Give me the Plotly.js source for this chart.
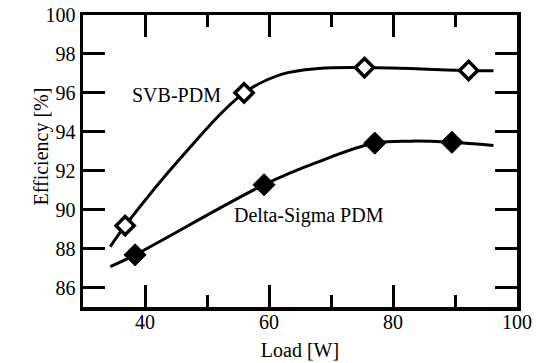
<!DOCTYPE html>
<html>
<head>
<meta charset="utf-8">
<script src="https://cdn.plot.ly/plotly-3.0.1.min.js"></script>
<style>html,body{margin:0;padding:0;background:#fff;}#chart{width:542px;height:363px;}</style>
</head>
<body>
<div id="chart"></div>
<script>
const svbLoad = [36.8, 55.98, 75.4, 92.2];
const svbEff = [89.18, 96.0, 97.3, 97.15];
const dsLoad = [38.4, 59.2, 77.05, 89.5];
const dsEff = [87.68, 91.28, 93.42, 93.46];
const svbCurveLoad = [34.4, 36.8, 46, 55.98, 62, 68, 75.4, 92.2, 96.2];
const svbCurveEff = [88.1, 89.18, 92.75, 96.0, 96.95, 97.25, 97.3, 97.15, 97.13];
const dsCurveLoad = [34.4, 38.4, 59.2, 67.5, 77.05, 83, 89.5, 96.2];
const dsCurveEff = [87.07, 87.68, 91.28, 92.4, 93.42, 93.52, 93.46, 93.3];
const xTicks = [40, 60, 80, 100];
const xMinorTicks = [50, 70, 90];
const yTicks = [86, 88, 90, 92, 94, 96, 98, 100];
const labelSvb = "SVB-PDM";
const labelDs = "Delta-Sigma PDM";
const xTitle = "Load [W]";
const yTitle = "Efficiency [%]";

const font = {family: "Liberation Serif", size: 20, color: "#000"};

const traces = [
  {x: svbCurveLoad, y: svbCurveEff, mode: "lines", line: {color: "#000", width: 3, shape: "spline", smoothing: 1}, showlegend: false},
  {x: dsCurveLoad, y: dsCurveEff, mode: "lines", line: {color: "#000", width: 3, shape: "spline", smoothing: 1}, showlegend: false},
  {x: svbLoad, y: svbEff, mode: "markers", marker: {symbol: "diamond", size: 14, color: "#fff", line: {color: "#000", width: 3.5}}, showlegend: false},
  {x: dsLoad, y: dsEff, mode: "markers", marker: {symbol: "diamond", size: 17, color: "#000", line: {color: "#000", width: 1}}, showlegend: false}
];

const layout = {
  width: 542, height: 363,
  margin: {l: 83, r: 25, t: 15, b: 56},
  showlegend: false,
  xaxis: {
    showgrid: false, zeroline: false, showline: true, linecolor: "#000", linewidth: 3.5,
    mirror: "ticks", ticks: "inside", tickcolor: "#000", tickwidth: 3, ticklen: 22,
    range: [30, 100], tickvals: xTicks, tickfont: font, ticklabelstandoff: -6,
    minor: {tickvals: xMinorTicks, ticks: "inside", ticklen: 12, tickwidth: 3, tickcolor: "#000"},
    title: {text: xTitle, font: font, standoff: 12}
  },
  yaxis: {
    showgrid: false, zeroline: false, showline: true, linecolor: "#000", linewidth: 3.5,
    mirror: "ticks", ticks: "inside", tickcolor: "#000", tickwidth: 3, ticklen: 22,
    range: [85, 100], tickvals: yTicks, tickfont: font
  },
  annotations: [
    {x: 45.1, y: 95.9, xref: "x", yref: "y", text: labelSvb, showarrow: false, font: font},
    {x: 66.5, y: 89.7, xref: "x", yref: "y", text: labelDs, showarrow: false, font: font},
    {x: (27 - 83) / 434, y: (307 - 147) / 292, xref: "paper", yref: "paper", text: yTitle, showarrow: false, font: font, textangle: -90}
  ]
};

Plotly.newPlot("chart", traces, layout, {staticPlot: true});
</script>
</body>
</html>
